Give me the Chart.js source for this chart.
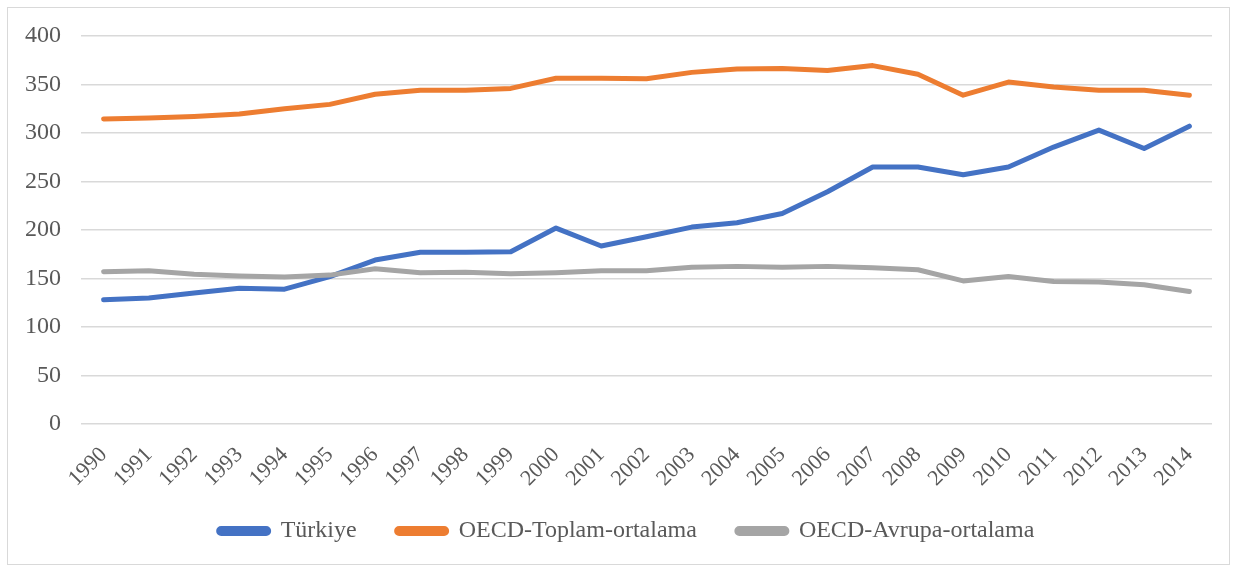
<!DOCTYPE html>
<html>
<head>
<meta charset="utf-8">
<script src="https://cdn.jsdelivr.net/npm/chart.js@4"></script>
<style>
  html, body { margin: 0; padding: 0; background: #ffffff; }
  #frame {
    position: absolute; left: 7px; top: 7px;
    width: 1223px; height: 558px;
    border: 1px solid #d9d9d9; box-sizing: border-box;
  }
  #chart { display: block; }
</style>
</head>
<body>
<div id="frame"><canvas id="chart" width="1221" height="556"></canvas></div>
<script>
const years = ['1990','1991','1992','1993','1994','1995','1996','1997','1998','1999',
  '2000','2001','2002','2003','2004','2005','2006','2007','2008','2009',
  '2010','2011','2012','2013','2014'];

const turkiye = [128, 130, 135, 140, 139, 152, 169, 177, 177, 177.5,
  202, 183.5, 193, 203, 207.5, 217, 239.5, 265, 265, 257,
  265, 285.5, 303, 284, 307];

const oecdToplam = [314.5, 315.5, 317, 319.5, 325, 329.5, 340, 344, 344, 346,
  356.5, 356.5, 356, 362.5, 366, 366.5, 364.5, 369.5, 360.5, 339,
  352.5, 347.5, 344, 344, 339];

const oecdAvrupa = [157, 158, 154.5, 152.5, 151.5, 153.5, 160, 156, 156.5, 155,
  156, 158, 158, 161.5, 162.5, 161.5, 162.5, 161, 159, 147.5,
  152, 147, 146.5, 143.5, 136.5];

const yTicks = { min: 0, max: 400, step: 50 };

const textColor = '#595959';
const fontFamily = "'Liberation Serif', 'Times New Roman', serif";

function series(label, data, color, order) {
  return {
    label, data, order,
    borderColor: color, backgroundColor: color,
    borderWidth: 5, tension: 0, pointRadius: 0, pointHoverRadius: 0,
    borderCapStyle: 'round', borderJoinStyle: 'round', fill: false
  };
}

// let the rotated year labels use the free space above the legend text
const roomForYearLabels = {
  id: 'roomForYearLabels',
  afterLayout(chart) {
    chart.scales.x.bottom = chart.legend.bottom;
  }
};

new Chart(document.getElementById('chart'), {
  type: 'line',
  data: {
    labels: years,
    datasets: [
      series('Türkiye', turkiye, '#4472c4', 3),
      series('OECD-Toplam-ortalama', oecdToplam, '#ed7d31', 2),
      series('OECD-Avrupa-ortalama', oecdAvrupa, '#a5a5a5', 1)
    ]
  },
  plugins: [roomForYearLabels],
  options: {
    responsive: false,
    animation: false,
    devicePixelRatio: 1,
    layout: { padding: { left: 16, right: 0, top: 28, bottom: 11 } },
    plugins: {
      tooltip: { enabled: false },
      legend: {
        position: 'bottom',
        labels: {
          color: textColor,
          font: { family: fontFamily, size: 24 },
          boxWidth: 50, boxHeight: 5,
          useBorderRadius: true, borderRadius: 2.5,
          padding: 40,
          sort: (a, b) => a.datasetIndex - b.datasetIndex
        }
      }
    },
    scales: {
      x: {
        offset: true,
        grid: { display: false },
        border: { display: false },
        afterFit: (scale) => { scale.height = 55; },
        ticks: {
          color: textColor,
          font: { family: fontFamily, size: 22 },
          maxRotation: 45, minRotation: 45,
          padding: 10, autoSkip: false
        }
      },
      y: {
        min: yTicks.min, max: yTicks.max,
        grid: { color: '#d9d9d9', lineWidth: 1.5, drawTicks: false },
        border: { display: false },
        afterFit: (scale) => {
          scale.width = 57;
          scale.paddingTop = 0;
          scale.paddingBottom = 0;
        },
        ticks: {
          stepSize: yTicks.step,
          color: textColor,
          font: { family: fontFamily, size: 24 },
          padding: 20
        }
      },
      // empty margin on the right of the plot area
      yRight: {
        position: 'right',
        grid: { display: false },
        border: { display: false },
        ticks: { display: false },
        afterFit: (scale) => {
          scale.width = 17;
          scale.paddingTop = 0;
          scale.paddingBottom = 0;
        }
      }
    }
  }
});
</script>
</body>
</html>
